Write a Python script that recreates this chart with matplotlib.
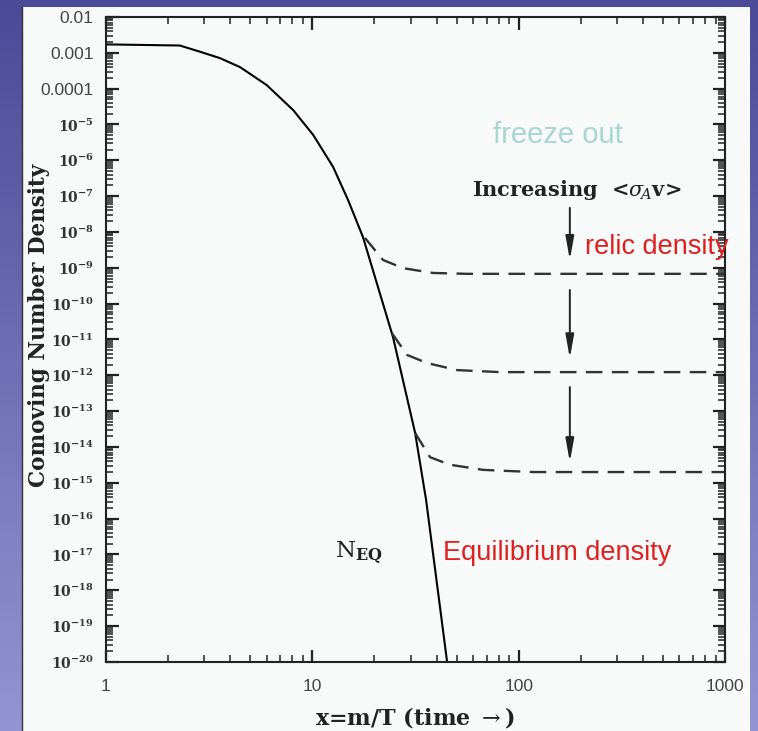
import numpy as np
import matplotlib
matplotlib.use("Agg")
import matplotlib.pyplot as plt
from matplotlib.patches import Rectangle
from matplotlib.ticker import LogLocator, FixedLocator, FixedFormatter, NullFormatter

plt.rcParams["mathtext.fontset"] = "dejavuserif"

# ---- data ----
x_eq = [1.0, 2.28, 2.86, 3.57, 4.46, 6.01, 8.09, 10.1, 12.6, 14.9, 17.6, 24.6, 31.5, 35.6, 45.0]
n_eq = [1.72e-3, 1.6e-3, 1.07e-3, 7.1e-4, 4.0e-4, 1.26e-4, 2.5e-5, 5.1e-6, 6.6e-7,
        7.8e-8, 7.2e-9, 1.17e-11, 2.45e-14, 3.3e-16, 1.0e-20]

x_relic1 = [18.0, 22.0, 27.5, 38.4, 56.2, 1000.0]
n_relic1 = [6.8e-9, 1.66e-9, 9.8e-10, 7.2e-10, 6.8e-10, 6.8e-10]
x_relic2 = [24.3, 28.8, 36.0, 50.3, 81.2, 1000.0]
n_relic2 = [1.5e-11, 3.7e-12, 2.2e-12, 1.4e-12, 1.23e-12, 1.23e-12]
x_relic3 = [31.5, 37.2, 46.4, 67.2, 117.0, 1000.0]
n_relic3 = [2.45e-14, 5.2e-15, 3.2e-15, 2.3e-15, 2.0e-15, 2.0e-15]

arrow_x = 177.0
arrow_starts = [4.7e-8, 2.4e-10, 4.7e-13]
arrow_ends = [1.66e-9, 3.0e-12, 3.8e-15]

y_tick_vals = [10.0 ** e for e in range(-2, -21, -1)]
y_tick_labels = ["0.01", "0.001", "0.0001"] + [r"$\mathbf{10^{-%d}}$" % e for e in range(5, 21)]
x_tick_vals = [1, 10, 100, 1000]
x_tick_labels = ["1", "10", "100", "1000"]

W, H = 758, 731
fig = plt.figure(figsize=(W / 100, H / 100), dpi=100)

# background gradient
bg = fig.add_axes([0, 0, 1, 1])
top = np.array([74, 74, 152]) / 255
bot = np.array([148, 148, 210]) / 255
t = np.linspace(0, 1, 256)[:, None]
grad = top[None, :] * (1 - t) + bot[None, :] * t
img = np.repeat(grad[:, None, :], 4, axis=1)
bg.imshow(img, aspect="auto", extent=[0, 1, 0, 1], origin="upper")
bg.set_xlim(0, 1)
bg.set_ylim(0, 1)
bg.axis("off")
bg.add_patch(Rectangle((22 / W, 0), (750 - 22) / W, (H - 7) / H, facecolor="#f7faf8",
                       edgecolor="none", transform=bg.transAxes))
bg.plot([22 / W, 22 / W], [0, (H - 7) / H], color="#333333", lw=1.0, transform=bg.transAxes)

# main axes
x0, x1, y0, y1 = 106, 725, 17, 662
ax = fig.add_axes([x0 / W, (H - y1) / H, (x1 - x0) / W, (y1 - y0) / H])
ax.set_facecolor("none")
ax.set_xscale("log")
ax.set_yscale("log")
ax.set_xlim(1, 1000)
ax.set_ylim(1e-20, 1e-2)

ax.plot(x_eq, n_eq, color="black", lw=1.5)
dash = dict(color="#333333", lw=1.7, dashes=(7, 4))
ax.plot(x_relic1, n_relic1, **dash)
ax.plot(x_relic2, n_relic2, **dash)
ax.plot(x_relic3, n_relic3, **dash)

for ys, ye in zip(arrow_starts, arrow_ends):
    ax.annotate("", xy=(arrow_x, ye), xytext=(arrow_x, ys),
                arrowprops=dict(arrowstyle="-|>,head_length=1.4,head_width=0.25",
                                color="#222222", lw=1.4, shrinkA=0, shrinkB=0))

for s in ax.spines.values():
    s.set_linewidth(1.5)
    s.set_color("#222222")

ax.yaxis.set_major_locator(FixedLocator(y_tick_vals))
ax.yaxis.set_major_formatter(FixedFormatter(y_tick_labels))
ax.yaxis.set_minor_locator(LogLocator(base=10, subs=np.arange(2, 10), numticks=40))
ax.yaxis.set_minor_formatter(NullFormatter())
ax.xaxis.set_major_locator(FixedLocator(x_tick_vals))
ax.xaxis.set_major_formatter(FixedFormatter(x_tick_labels))
ax.xaxis.set_minor_locator(LogLocator(base=10, subs=np.arange(2, 10), numticks=20))
ax.xaxis.set_minor_formatter(NullFormatter())

ax.tick_params(axis="both", which="major", direction="in", top=True, right=True,
               length=9, width=1.6, color="#222222")
ax.tick_params(axis="both", which="minor", direction="in", top=True, right=True,
               length=5, width=1.1, color="#222222")
ax.tick_params(axis="y", which="major", labelsize=10, labelcolor="#333333", pad=9)
ax.tick_params(axis="x", which="major", labelsize=12.5, labelcolor="#444444", pad=12)
for i, lab in enumerate(ax.get_yticklabels()):
    if i < 3:
        lab.set_family("Liberation Sans")
        lab.set_fontsize(12.5)
        lab.set_color("#444444")
for lab in ax.get_xticklabels():
    lab.set_family("Liberation Sans")

ax.set_ylabel("Comoving Number Density", family="DejaVu Serif", fontweight="bold",
              fontsize=15.5, color="#222222")
ax.yaxis.set_label_coords((50 - x0) / (x1 - x0), (y1 - 325) / (y1 - y0))
ax.set_xlabel(r"x=m/T (time $\rightarrow$)", family="DejaVu Serif", fontweight="bold",
              fontsize=16, color="#222222")
ax.xaxis.set_label_coords(0.5, -(705 - y1) / (y1 - y0))

ax.text(155, 10 ** -5.29, "freeze out", family="Liberation Sans", fontsize=21,
        color="#a9d6d2", ha="center", va="center")
ax.text(59.4, 10 ** -6.83, r"Increasing  <$\sigma_{\!A}$v>", family="DejaVu Serif",
        fontweight="bold", fontsize=15, color="#222222", ha="left", va="center")
ax.text(210, 10 ** -8.42, "relic density", family="Liberation Sans", fontsize=19.5,
        color="#e02020", ha="left", va="center", clip_on=False)
ax.text(43, 10 ** -16.96, "Equilibrium density", family="Liberation Sans", fontsize=19.5,
        color="#e02020", ha="left", va="center")
ax.text(12.9, 10 ** -16.96, r"N$_{\mathbf{EQ}}$", family="DejaVu Serif", fontsize=16.5,
        color="#222222", ha="left", va="center")

fig.savefig("out.png", dpi=100)
